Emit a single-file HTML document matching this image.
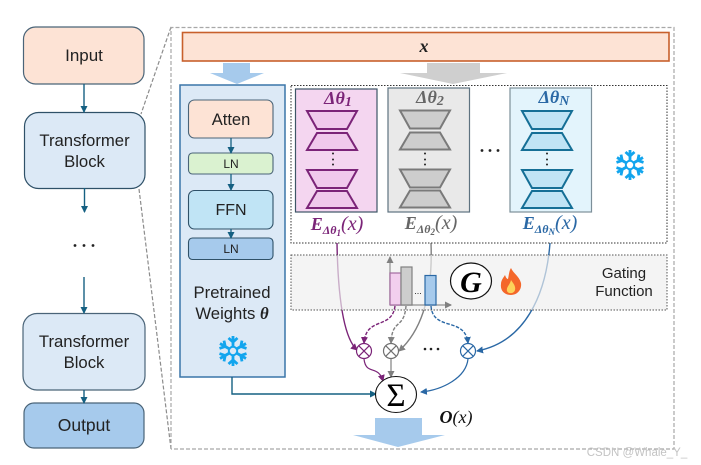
<!DOCTYPE html>
<html><head><meta charset="utf-8"><style>
html,body{margin:0;padding:0;background:#fff;width:701px;height:465px;overflow:hidden}
svg{display:block}
text{font-family:"Liberation Sans",sans-serif;fill:#222;text-anchor:middle}
.m{font-family:"Liberation Serif",serif;font-style:italic;font-weight:bold}
</style></head><body>
<svg width="701" height="465" viewBox="0 0 701 465" xmlns="http://www.w3.org/2000/svg">
<defs>
<marker id="a" markerWidth="7" markerHeight="7" refX="6" refY="3.500" orient="auto" markerUnits="userSpaceOnUse"><path d="M0 0L7 3.500L0 7Z" fill="#156082"/></marker>
<marker id="ap" markerWidth="7" markerHeight="7" refX="6" refY="3.500" orient="auto" markerUnits="userSpaceOnUse"><path d="M0 0L7 3.500L0 7Z" fill="#7b2478"/></marker>
<marker id="ag" markerWidth="7" markerHeight="7" refX="6" refY="3.500" orient="auto" markerUnits="userSpaceOnUse"><path d="M0 0L7 3.500L0 7Z" fill="#808080"/></marker>
<marker id="ab" markerWidth="7" markerHeight="7" refX="6" refY="3.500" orient="auto" markerUnits="userSpaceOnUse"><path d="M0 0L7 3.500L0 7Z" fill="#2a68a5"/></marker>
<g id="flake" fill="none" stroke="#12a5ee" stroke-width="2.800">
<circle r="4.200" stroke-width="2"/>
<g id="arm"><path d="M0 -4V-15M-4.500 -13L0 -9L4.500 -13"/></g>
<use href="#arm" transform="rotate(60)"/><use href="#arm" transform="rotate(120)"/><use href="#arm" transform="rotate(180)"/><use href="#arm" transform="rotate(240)"/><use href="#arm" transform="rotate(300)"/>
</g>
<g id="hour">
<path d="M-25 0H25L15 18H-15Z"/>
<path d="M-15 22H15L25 39H-25Z"/>
<path d="M-25 59H25L15 77H-15Z"/>
<path d="M-15 80H15L25 97H-25Z"/>
</g>
</defs>

<!-- zoom lines and frame -->
<g fill="none" stroke="#8c8c8c" stroke-width="1.200" stroke-dasharray="4 2">
<path d="M171 27L141 114"/><path d="M139 189L171 449"/>
<path d="M171 449V27.500H674V449H171" stroke="#a8a8a8"/>
</g>

<!-- left column -->
<g stroke="#4a6478" stroke-width="1.200">
<rect x="23.500" y="27" width="120.500" height="57" rx="12" fill="#fde3d5"/>
<rect x="24.500" y="112.500" width="120.500" height="76" rx="14" fill="#dce9f6" stroke="#2f5168"/>
<rect x="23" y="313.500" width="122" height="76.500" rx="14" fill="#dce9f6"/>
<rect x="24" y="403" width="120" height="45" rx="10" fill="#a6caec"/>
</g>
<text x="84" y="61" font-size="17">Input</text>
<text x="84.500" y="146" font-size="16.700">Transformer</text>
<text x="84.500" y="167" font-size="16.700">Block</text>
<text x="84" y="347" font-size="16.700">Transformer</text>
<text x="84" y="368" font-size="16.700">Block</text>
<text x="84" y="431" font-size="17.500">Output</text>
<g stroke="#156082" stroke-width="1.400" fill="none">
<path d="M84 84V112" marker-end="url(#a)"/>
<path d="M84.500 188V212" marker-end="url(#a)"/>
<path d="M84 277V313" marker-end="url(#a)"/>
<path d="M84 390V403" marker-end="url(#a)"/>
</g>
<g fill="#222"><circle cx="75" cy="245.500" r="1.400"/><circle cx="84" cy="245.500" r="1.400"/><circle cx="93" cy="245.500" r="1.400"/></g>

<!-- x bar -->
<rect x="182.500" y="32.500" width="486.500" height="28.500" fill="#fde3d5" stroke="#c8602c" stroke-width="1.600"/>
<text class="m" x="424" y="52" font-size="18">x</text>
<path d="M223 63H250V73H264L237 84L210 73H223Z" fill="#a6caec"/>
<path d="M427 63H480V73H507L453 84L400 73H427Z" fill="#cfcfcf"/>

<!-- pretrained panel -->
<rect x="180" y="85" width="105" height="292" fill="#dce9f6" stroke="#3a75a8" stroke-width="1.500"/>
<g stroke="#4a6478" stroke-width="1.100">
<rect x="188.500" y="100" width="84.500" height="38" rx="6" fill="#fde3d5"/>
<rect x="188.500" y="153" width="84.500" height="21" rx="4" fill="#daf2d0"/>
<rect x="188.500" y="190.500" width="84.500" height="38.500" rx="6" fill="#c0e4f5" stroke="#2f5168"/>
<rect x="188.500" y="238" width="84.500" height="21.500" rx="4" fill="#a6caec" stroke="#2f5168"/>
</g>
<text x="231" y="125" font-size="16.500">Atten</text>
<text x="231" y="168" font-size="12">LN</text>
<text x="231" y="215" font-size="16">FFN</text>
<text x="231" y="253" font-size="12">LN</text>
<g stroke="#156082" stroke-width="1.300" fill="none">
<path d="M231 138V153" marker-end="url(#a)"/>
<path d="M231 174V190" marker-end="url(#a)"/>
<path d="M231 229V238" marker-end="url(#a)"/>
</g>
<text x="232" y="298" font-size="16.700">Pretrained</text>
<text x="232" y="319" font-size="16.700">Weights <tspan class="m">θ</tspan></text>
<use href="#flake" transform="translate(233 351)"/>
<path d="M232 377V394H376" fill="none" stroke="#156082" stroke-width="1.400" marker-end="url(#a)"/>

<!-- connectors (under gate shading) -->
<g fill="none" stroke-width="1.400">
<path d="M337 243C338 300 344 338 357 350" stroke="#7b2478" marker-end="url(#ap)"/>
<path d="M431 243C433 295 422 330 399 351" stroke="#808080" marker-end="url(#ag)"/>
<path d="M550 243C546 295 525 342 477 351" stroke="#2a68a5" marker-end="url(#ab)"/>
</g>

<!-- Gate -->
<rect x="291" y="255" width="376" height="55" fill="#efefef" fill-opacity=".68" stroke="#555" stroke-width="1" stroke-dasharray="1.500 1.500"/>
<g fill="none" stroke="#a0a0a0" stroke-width="1.400">
<path d="M390 305V257" marker-end="url(#ag)"/>
<path d="M390 305H451" marker-end="url(#ag)"/>
</g>
<rect x="390" y="273" width="11" height="32" fill="#f2cfee" stroke="#a36ba0" stroke-width="1.200"/>
<rect x="401" y="267" width="11" height="38" fill="#cdcdcd" stroke="#808080" stroke-width="1.200"/>
<rect x="425" y="275.500" width="11" height="29.500" fill="#a6caec" stroke="#2a68a5" stroke-width="1.200"/>
<text x="418" y="294" font-size="9">...</text>
<ellipse cx="471" cy="281" rx="20.500" ry="18" fill="#fff" stroke="#111" stroke-width="1.200"/>
<text class="m" x="471" y="292" font-size="30" style="fill:#000">G</text>
<path d="M511 268C513 273 519 276 521 283C522 290 517 295 511 295C505 295 500 291 501 284C501 280 504 277 505 275C506 278 507 279 508 279C509 275 509 271 511 268Z" fill="#f4672a"/>
<path d="M511 280C513 283 516 286 515 290C514 294 508 294 507 291C506 287 510 285 511 280Z" fill="#fdd35a"/>
<text x="624" y="278" font-size="15">Gating</text>
<text x="624" y="296" font-size="15">Function</text>

<!-- Dotted encoders box -->
<rect x="291" y="85.500" width="376" height="157.500" fill="none" stroke="#333" stroke-width="1" stroke-dasharray="1.500 1.500"/>
<rect x="295.500" y="89" width="81.500" height="123" fill="#f4d6f0" stroke="#3d5566" stroke-width="1.200"/>
<rect x="388" y="88" width="81.500" height="124" fill="#e9e9e9" stroke="#5e7280" stroke-width="1.200"/>
<rect x="510" y="88" width="81.500" height="124" fill="#e3f4fc" stroke="#7d8f99" stroke-width="1.200"/>
<use href="#hour" transform="translate(332 111)" fill="#f0c9ec" stroke="#7b2478" stroke-width="2"/>
<use href="#hour" transform="translate(425 110.500)" fill="#cdcdcd" stroke="#7a7a7a" stroke-width="2"/>
<use href="#hour" transform="translate(547 111)" fill="#c0e4f5" stroke="#156f96" stroke-width="2"/>
<g fill="#222">
<circle cx="333" cy="153.500" r="1"/><circle cx="333" cy="159.500" r="1"/><circle cx="333" cy="164.500" r="1"/>
<circle cx="425" cy="153.500" r="1"/><circle cx="425" cy="159.500" r="1"/><circle cx="425" cy="164.500" r="1"/>
<circle cx="547" cy="153.500" r="1"/><circle cx="547" cy="159.500" r="1"/><circle cx="547" cy="164.500" r="1"/>
<circle cx="482" cy="150.500" r="1.400"/><circle cx="490" cy="150.500" r="1.400"/><circle cx="498" cy="150.500" r="1.400"/>
</g>
<text class="m" x="338" y="104" font-size="18" style="fill:#7b2478">Δθ<tspan font-size="14" dy="2">1</tspan></text>
<text class="m" x="430" y="103" font-size="18" style="fill:#666">Δθ<tspan font-size="14" dy="2">2</tspan></text>
<text class="m" x="554" y="103" font-size="18" style="fill:#2a68a5">Δθ<tspan font-size="14" dy="2">N</tspan></text>
<text class="m" x="337" y="230" font-size="18" style="fill:#7b2478">E<tspan font-size="12" dy="4">Δθ</tspan><tspan font-size="9" dy="2">1</tspan><tspan dy="-6" font-weight="normal" font-size="20">(x)</tspan></text>
<text class="m" x="431" y="229" font-size="18" style="fill:#666">E<tspan font-size="12" dy="4">Δθ</tspan><tspan font-size="9" dy="2">2</tspan><tspan dy="-6" font-weight="normal" font-size="20">(x)</tspan></text>
<text class="m" x="550" y="229" font-size="18" style="fill:#2a68a5">E<tspan font-size="12" dy="4">Δθ</tspan><tspan font-size="9" dy="2">N</tspan><tspan dy="-6" font-weight="normal" font-size="20">(x)</tspan></text>
<use href="#flake" transform="translate(630 165)"/>

<!-- dashed gate to multipliers -->
<g fill="none" stroke-width="1.400" stroke-dasharray="3.500 1.500">
<path d="M395 306C392 330 366 316 364 343" stroke="#7b2478" marker-end="url(#ap)"/>
<path d="M406 306C404 330 392 318 391 343" stroke="#808080" marker-end="url(#ag)"/>
<path d="M431 306C433 332 465 316 468 343" stroke="#2a68a5" marker-end="url(#ab)"/>
</g>

<!-- multipliers -->
<g fill="#fff" stroke-width="1.200">
<g stroke="#7b2478"><circle cx="364" cy="351" r="7.500"/><path d="M358.700 345.700L369.300 356.300M369.300 345.700L358.700 356.300"/></g>
<g stroke="#707070"><circle cx="391" cy="351" r="7.500"/><path d="M385.700 345.700L396.300 356.300M396.300 345.700L385.700 356.300"/></g>
<g stroke="#2a68a5"><circle cx="468" cy="351" r="7.500"/><path d="M462.700 345.700L473.300 356.300M473.300 345.700L462.700 356.300"/></g>
</g>
<g fill="#222"><circle cx="425" cy="349" r="1.300"/><circle cx="431" cy="349" r="1.300"/><circle cx="438" cy="349" r="1.300"/></g>
<g fill="none" stroke-width="1.200">
<path d="M364 359C366 376 378 364 383 381" stroke="#7b2478" marker-end="url(#ap)"/>
<path d="M391 359V377" stroke="#808080" marker-end="url(#ag)"/>
<path d="M468 359C466 378 442 390 421 392" stroke="#2a68a5" marker-end="url(#ab)"/>
</g>

<!-- sum -->
<ellipse cx="396" cy="394.500" rx="20.500" ry="18" fill="#fff" stroke="#111" stroke-width="1.100"/>
<text x="396" y="406" font-size="33" style="font-family:'Liberation Serif',serif;fill:#000">Σ</text>
<text class="m" x="456" y="423" font-size="18" style="fill:#111">O<tspan font-weight="normal">(x)</tspan></text>
<path d="M375 418H422V435H445L398 447L353 435H375Z" fill="#a6caec"/>

<text x="637" y="456" font-size="11.500" style="fill:#c4c4c4">CSDN @Whale_Y_</text>
</svg>
</body></html>
